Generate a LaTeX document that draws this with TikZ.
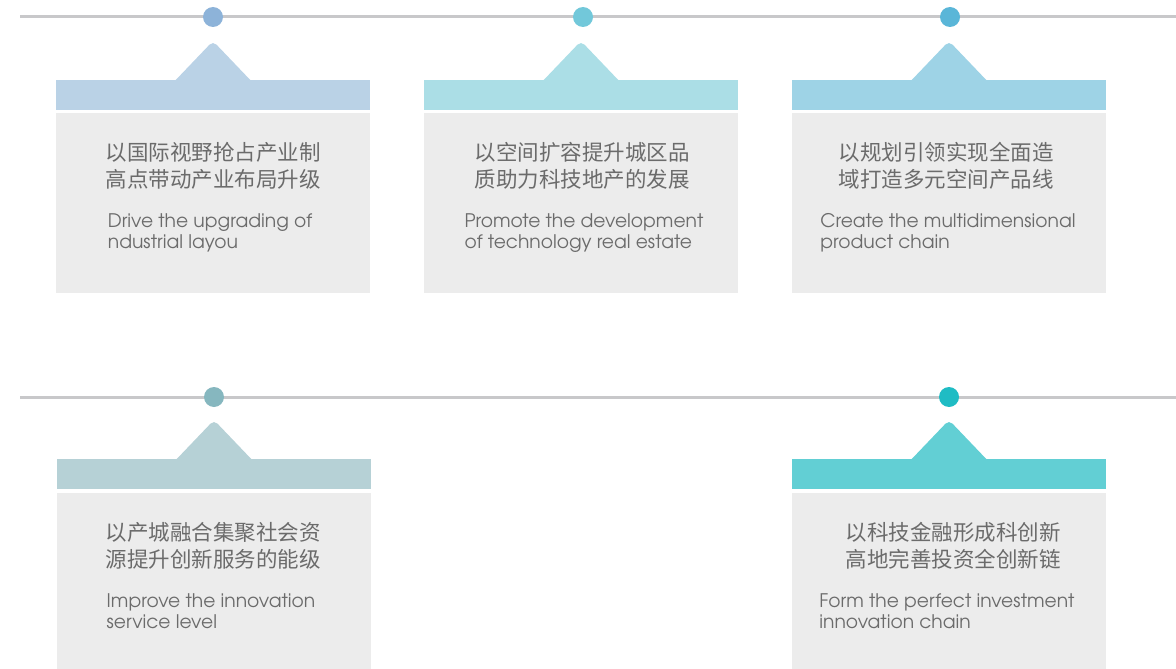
\documentclass[tikz,border=0pt]{standalone}
\usepackage{fontspec}
\newfontfamily\cjkfont{Noto Sans CJK SC}
\newfontfamily\enfont{texgyreadventor-regular.otf}

\definecolor{linegray}{HTML}{C8C8CA}
\definecolor{bodygray}{HTML}{ECECEC}
\definecolor{textgray}{HTML}{6B6B6B}
\definecolor{dotA}{HTML}{8DB3D9}
\definecolor{dotB}{HTML}{72C8DA}
\definecolor{dotC}{HTML}{5AB6D8}
\definecolor{dotD}{HTML}{86B7BF}
\definecolor{dotE}{HTML}{1FBCC4}
\definecolor{bandA}{HTML}{BAD2E6}
\definecolor{bandB}{HTML}{ABDEE6}
\definecolor{bandC}{HTML}{9ED3E6}
\definecolor{bandD}{HTML}{B6D1D6}
\definecolor{bandE}{HTML}{62CFD4}

\tikzset{
  band/.style={rectangle, anchor=north west, inner sep=0pt, outer sep=0pt,
    minimum width=314pt, minimum height=30pt},
  cardbody/.style={rectangle, anchor=north west, inner sep=0pt, outer sep=0pt,
    fill=bodygray, minimum width=314pt},
  cntext/.style={align=left, inner sep=0pt, text=textgray,
    font=\cjkfont\fontsize{21.5}{27}\selectfont},
  entext/.style={align=left, inner sep=0pt, text=textgray,
    font=\enfont\fontsize{18.7}{21}\selectfont},
}

\begin{document}
\begin{tikzpicture}[x=1pt,y=-1pt]

      \useasboundingbox (0,0) rectangle (1176,669);

      \coordinate (ta) at (20,17);
      \coordinate (tb) at (1176,17);
      \coordinate (ba) at (20,397);
      \coordinate (bb) at (1176,397);
      \path[draw=linegray, line width=3pt] (ta) -- (tb) (ba) -- (bb);

      \begin{scope}[every node/.style={circle, inner sep=0pt, minimum size=20pt}]
        \node[fill=dotA] (d1) at (213,17)  {};
        \node[fill=dotB] (d2) at (583,17)  {};
        \node[fill=dotC] (d3) at (950,17)  {};
        \node[fill=dotD] (d4) at (214,397) {};
        \node[fill=dotE] (d5) at (949,397) {};
      \end{scope}

      \fill[bandA] (170,86) [rounded corners=5pt] -- (213,41) [sharp corners] -- (256,86) -- cycle;
      \fill[bandB] (538,86) [rounded corners=5pt] -- (581,41) [sharp corners] -- (624,86) -- cycle;
      \fill[bandC] (906,86) [rounded corners=5pt] -- (949,41) [sharp corners] -- (992,86) -- cycle;
      \fill[bandD] (171,465) [rounded corners=5pt] -- (214,420) [sharp corners] -- (257,465) -- cycle;
      \fill[bandE] (906,465) [rounded corners=5pt] -- (949,420) [sharp corners] -- (992,465) -- cycle;

      \node[band, fill=bandA] (h1) at (56,80)  {};
      \node[band, fill=bandB] (h2) at (424,80) {};
      \node[band, fill=bandC] (h3) at (792,80) {};
      \node[band, fill=bandD] (h4) at (57,459) {};
      \node[band, fill=bandE] (h5) at (792,459) {};

      \node[cardbody, minimum height=180pt] (b1) at (56,113)  {};
      \node[cardbody, minimum height=180pt] (b2) at (424,113) {};
      \node[cardbody, minimum height=180pt] (b3) at (792,113) {};
      \node[cardbody, minimum height=176pt] (b4) at (57,493)  {};
      \node[cardbody, minimum height=176pt] (b5) at (792,493) {};

      \begin{scope}[every node/.style={cntext}]
        \node (c1) at (213,166) {以国际视野抢占产业制\\高点带动产业布局升级};
        \node (c2) at (582,166) {以空间扩容提升城区品\\质助力科技地产的发展};
        \node (c3) at (946,166) {以规划引领实现全面造\\域打造多元空间产品线};
        \node (c4) at (213,546) {以产城融合集聚社会资\\源提升创新服务的能级};
        \node (c5) at (953,546) {以科技金融形成科创新\\高地完善投资全创新链};
      \end{scope}

      \begin{scope}[every node/.style={entext}]
        \node (e1) at (210,233) {Drive the upgrading of\\ndustrial layou};
        \node (e2) at (584,233) {Promote the development\\of technology real estate};
        \node (e3) at (948,233) {Create the multidimensional\\product chain};
        \node (e4) at (211,611) {Improve the innovation\\service level};
        \node (e5) at (947,611) {Form the perfect investment\\innovation chain};
      \end{scope}

    \end{tikzpicture}
\end{document}
